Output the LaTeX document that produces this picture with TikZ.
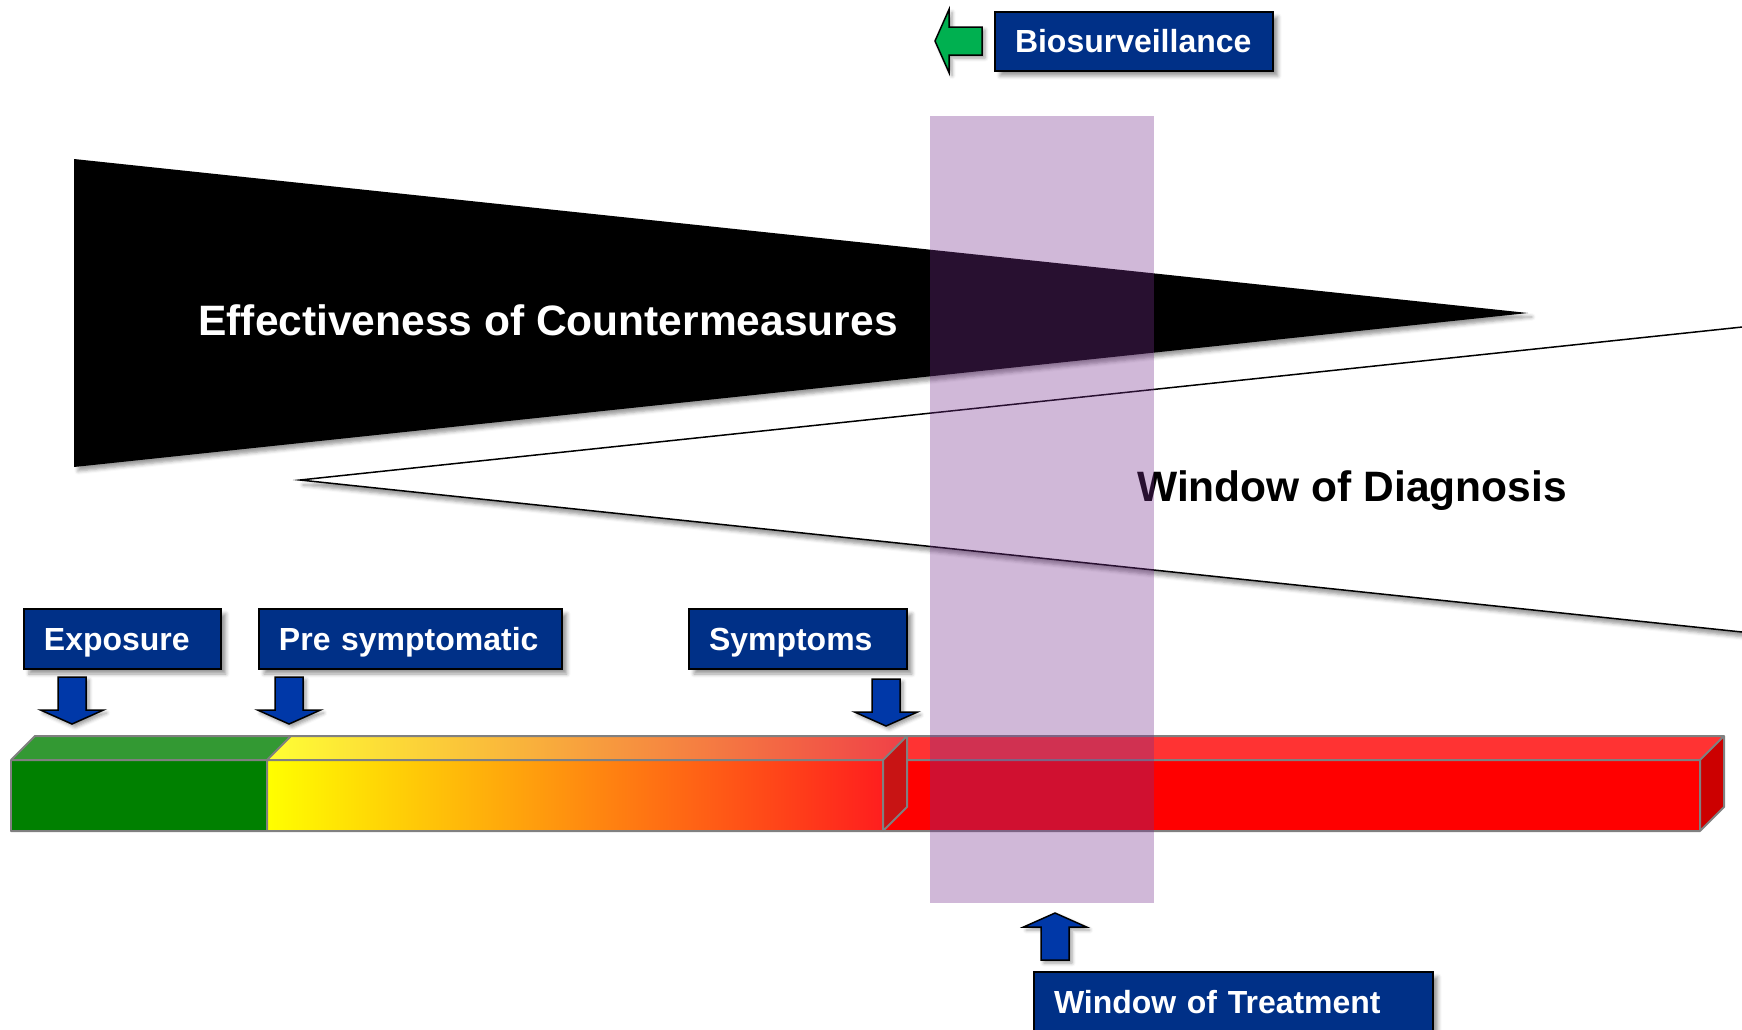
\documentclass[tikz,border=0pt]{standalone}
\usepackage{fontspec}
\setmainfont{Liberation Sans}
\usetikzlibrary{shadows.blur}
\definecolor{boxblue}{RGB}{0,48,135}
\definecolor{arrowblue}{RGB}{0,56,168}
\definecolor{arrowgreen}{RGB}{0,176,80}
\definecolor{bandpurple}{RGB}{118,47,141}
\definecolor{greenfront}{RGB}{0,128,0}
\definecolor{greentop}{RGB}{51,153,51}
\definecolor{redfront}{RGB}{255,0,0}
\definecolor{redtop}{RGB}{255,51,51}
\definecolor{redside}{RGB}{204,0,0}
\definecolor{gradend}{RGB}{200,20,20}
\definecolor{gradmid}{RGB}{250,170,30}
\definecolor{gradright}{RGB}{255,30,30}
\definecolor{topmid}{RGB}{252,190,70}
\definecolor{topright}{RGB}{240,64,72}
\begin{document}
\begin{tikzpicture}[x=0.02cm, y=-0.02cm,
	labelbox/.style={draw=black, line width=0.04cm, fill=boxblue, text=white, anchor=north west, align=left, inner xsep=0.4cm, inner ysep=0pt, minimum height=1.2cm, text height=13pt, text depth=0pt, font=\fontsize{18.2}{20}\selectfont\bfseries, blur shadow={shadow xshift=0.1cm, shadow yshift=-0.1cm}},
	bigtext/.style={font=\fontsize{24.2}{28}\selectfont\bfseries, inner sep=0pt, anchor=base west},
	barline/.style={draw=gray, line width=0.04cm, line join=round},
	blockarrow/.pic={\path[pic actions, line width=0.03cm, line join=miter, blur shadow={shadow xshift=0.06cm, shadow yshift=-0.06cm}] (0,0) -- (31.5,-14) -- (14,-14) -- (14,-47) -- (-14,-47) -- (-14,-14) -- (-31.5,-14) -- cycle;}]
	\useasboundingbox (0,0) rectangle (1742,1029);
	\fill[black, blur shadow={shadow xshift=0.08cm, shadow yshift=-0.08cm}] (74,159) -- (1528,313) -- (74,467) -- cycle;
	\node[bigtext, text=white] (effect) at (198,335) {Effectiveness of Countermeasures};
	\draw[fill=white, line width=0.03cm, blur shadow={shadow xshift=0.06cm, shadow yshift=-0.1cm}] (1780,323) -- (300,480) -- (1780,636) -- cycle;
	\node[bigtext, text=black] (diagnosis) at (1137,501) {Window of Diagnosis};
	\fill[redfront] (883,760) rectangle (1700,831);
	\fill[redtop] (883,760) -- (907,736) -- (1724,736) -- (1700,760) -- cycle;
	\fill[redside] (1700,760) -- (1724,736) -- (1724,807) -- (1700,831) -- cycle;
	\draw[barline] (883,760) rectangle (1700,831) (883,760) -- (907,736) -- (1724,736) -- (1700,760) (1724,736) -- (1724,807) -- (1700,831);
	\fill[greenfront] (11,760) rectangle (267,831);
	\fill[greentop] (11,760) -- (35,736) -- (291,736) -- (267,760) -- cycle;
	\shade[left color=yellow, middle color=gradmid, right color=gradright] (267,760) rectangle (883,831);
	\shade[left color=yellow!80!white, middle color=topmid, right color=topright] (267,760) -- (291,736) -- (907,736) -- (883,760) -- cycle;
	\fill[gradend] (883,760) -- (907,736) -- (907,807) -- (883,831) -- cycle;
	\draw[barline] (11,760) rectangle (883,831) (267,760) -- (267,831) (11,760) -- (35,736) -- (907,736) -- (883,760) (267,760) -- (291,736) (907,736) -- (907,807) -- (883,831);
	\node[labelbox, text width=3.14cm] (exposure) at (23,608) {Exposure};
	\node[labelbox, text width=5.26cm] (presym) at (258,608) {Pre symptomatic};
	\node[labelbox, text width=3.56cm] (symptoms) at (688,608) {Symptoms};
	\node[labelbox, text width=4.76cm, minimum height=1.18cm] (biosurv) at (994,11) {Biosurveillance};
	\node[labelbox, text width=7.18cm] (treatment) at (1033,971) {Window of Treatment};
	\pic[fill=arrowblue, draw=black] (exparrow) at (72,724) {blockarrow};
	\pic[fill=arrowblue, draw=black] (prearrow) at (289,724) {blockarrow};
	\pic[fill=arrowblue, draw=black] (symarrow) at (886,726) {blockarrow};
	\pic[fill=arrowblue, draw=black, rotate=180] (treatarrow) at (1055,913) {blockarrow};
	\pic[fill=arrowgreen, draw=black, rotate=-90] (bioarrow) at (935,41) {blockarrow};
	\fill[bandpurple, opacity=0.34] (930,116) rectangle (1154,903);
\end{tikzpicture}
\end{document}
